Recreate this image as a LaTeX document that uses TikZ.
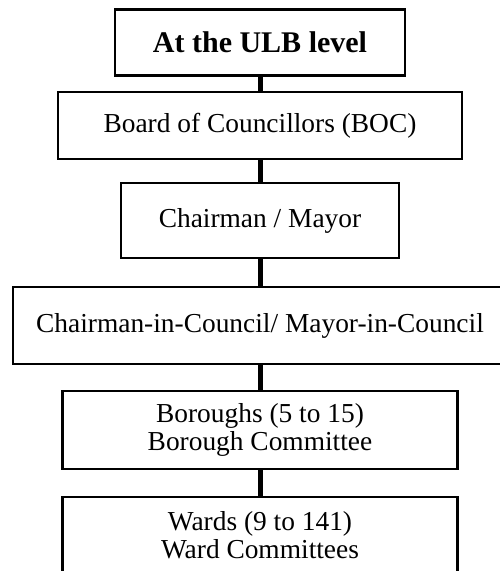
\documentclass[tikz,border=0pt]{standalone}
\usepackage{fontspec}
\setmainfont{Liberation Serif}
\begin{document}
\begin{tikzpicture}[x=1pt,y=1pt,
  level/.style={draw=black,line width=2.6pt,fill=white,align=center,
    inner sep=0pt,font=\fontsize{27.4}{28}\selectfont},
  link/.style={line width=5pt}]
\useasboundingbox (0,0) rectangle (500,-571);
\clip (0,0) rectangle (500,-571);
% the six levels of the hierarchy, top to bottom
\node[level,minimum width=290,minimum height=66,font=\bfseries\fontsize{30}{32}\selectfont] (ulb) at (260,-42.5) {At the ULB level};
\node[level,minimum width=404,minimum height=67] (boc) at (260,-125.5) {Board of Councillors (BOC)};
\node[level,minimum width=278,minimum height=75] (mayor) at (260,-220.5) {Chairman / Mayor};
\node[level,minimum width=494,minimum height=77] (mic) at (260,-325.5) {Chairman-in-Council/ Mayor-in-Council};
\node[level,minimum width=395,minimum height=78] (borough) at (260,-430) {Boroughs (5 to 15)\\Borough Committee};
\node[level,minimum width=395,minimum height=76] (ward) at (260,-535) {Wards (9 to 141)\\Ward Committees};
% vertical links between consecutive levels
\draw[link] (ulb.south) -- (boc.north);
\draw[link] (boc.south) -- (mayor.north);
\draw[link] (mayor.south) -- (mic.north);
\draw[link] (mic.south) -- (borough.north);
\draw[link] (borough.south) -- (ward.north);
\end{tikzpicture}
\end{document}
